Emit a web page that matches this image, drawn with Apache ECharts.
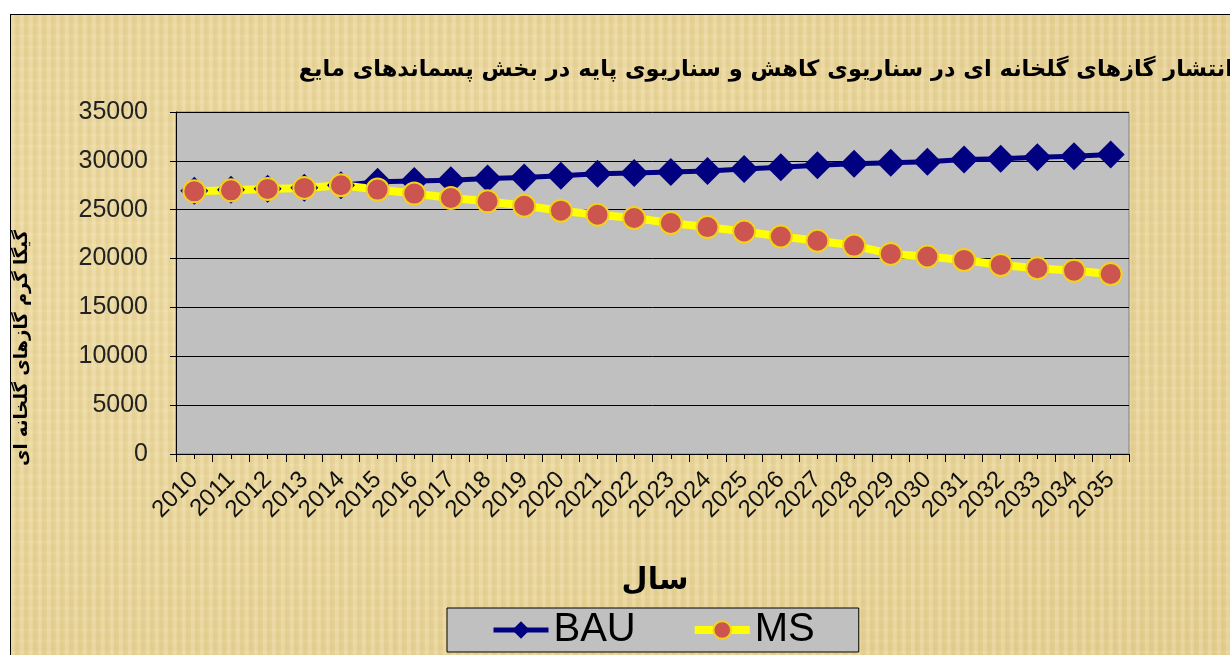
<!DOCTYPE html>
<html>
<head>
<meta charset="utf-8">
<script src="https://cdn.jsdelivr.net/npm/echarts@6/dist/echarts.min.js"></script>
<style>
  html, body { margin:0; padding:0; background:#ffffff; }
  #wrap { position:relative; width:1230px; height:655px; overflow:hidden; background:#ffffff; }
  #bg { position:absolute; left:10px; top:14px; width:1230px; height:660px;
        border-left:1px solid #000; border-top:1px solid #000;
        background-color:#e6d193;
        background-image:
          repeating-linear-gradient(90deg, rgba(255,250,225,0.18) 0px, rgba(255,250,225,0.18) 3px, rgba(190,160,90,0.10) 5px, rgba(255,250,225,0.0) 9px),
          repeating-linear-gradient(0deg, rgba(255,248,220,0.12) 0px, rgba(200,170,100,0.08) 4px, rgba(255,248,220,0.0) 11px),
          radial-gradient(ellipse at 30% 40%, rgba(245,230,180,0.5), rgba(220,195,130,0.3));
  }
  #chart { position:absolute; left:0; top:0; width:1230px; height:655px; }
</style>
</head>
<body>
<div id="wrap">
  <div id="bg"></div>
  <div id="chart"></div>
</div>
<script>
const years = ['2010','2011','2012','2013','2014','2015','2016','2017','2018','2019','2020','2021','2022','2023','2024','2025','2026','2027','2028','2029','2030','2031','2032','2033','2034','2035'];
const bauValues = [26950, 27050, 27150, 27250, 27500, 27850, 27950, 28010, 28190, 28290, 28470, 28680, 28770, 28860, 28970, 29160, 29350, 29560, 29700, 29800, 29900, 30140, 30210, 30380, 30480, 30650];
const msValues = [26880, 26980, 27130, 27230, 27500, 27060, 26650, 26200, 25860, 25410, 24900, 24490, 24150, 23640, 23220, 22770, 22260, 21820, 21330, 20480, 20210, 19860, 19350, 19010, 18760, 18420];
const titleText = 'انتشار گازهای گلخانه ای در سناریوی کاهش و سناریوی پایه در بخش پسماندهای مایع';
const yName = 'گیگا گرم گازهای گلخانه ای';
const xName = 'سال';

const chart = echarts.init(document.getElementById('chart'), null, {renderer:'canvas'});
const option = {
  backgroundColor: 'transparent',
  animation: false,
  grid: { left:176, right:101, top:112, bottom:201, show:true, backgroundColor:'#c0c0c0', borderColor:'#808080', borderWidth:1 },
  graphic: [
    { type:'text', x:1233, y:70, style:{ text:titleText, fill:'#000', font:'bold 22.5px "DejaVu Sans"', textAlign:'right', textVerticalAlign:'middle' } },
    { type:'text', x:22, y:348, rotation:Math.PI/2, style:{ text:yName, fill:'#000', font:'bold 18px "DejaVu Sans"', textAlign:'center', textVerticalAlign:'middle' } },
    { type:'text', x:655, y:581, style:{ text:xName, fill:'#000', font:'bold 30px "DejaVu Sans"', textAlign:'center', textVerticalAlign:'middle' } }
  ],
  legend: {
    left:447, top:608, padding:[0,44,0,44], itemGap:55, itemWidth:55, itemHeight:22,
    backgroundColor:'#c0c0c0', borderColor:'#000', borderWidth:1,
    textStyle:{ fontFamily:'Liberation Sans', fontSize:40, color:'#000', lineHeight:44 },
    data:[
      { name:'BAU', lineStyle:{ width:5, color:'#000080' } },
      { name:'MS', lineStyle:{ width:8, color:'#ffff00' } }
    ]
  },
  xAxis: [
    { type:'category', data:years, boundaryGap:true, position:'bottom',
      axisLine:{ show:true, lineStyle:{ color:'#000', width:1 } },
      axisTick:{ show:true, alignWithLabel:false, length:8, lineStyle:{ color:'#000' } },
      axisLabel:{ rotate:45, fontFamily:'Liberation Sans', fontSize:24, color:'#111', margin:22, padding:[34,0,0,0], interval:0 },
      splitLine:{ show:false } },
    { type:'category', data:years, boundaryGap:true, position:'bottom',
      axisLine:{ show:false },
      axisTick:{ show:true, alignWithLabel:true, length:5, lineStyle:{ color:'#000' } },
      axisLabel:{ show:false }, splitLine:{ show:false } }
  ],
  yAxis: {
    type:'value', min:0, max:35000, interval:5000,
    axisLine:{ show:true, lineStyle:{ color:'#000', width:1 } },
    axisTick:{ show:true, length:6, lineStyle:{ color:'#000' } },
    axisLabel:{ fontFamily:'Liberation Sans', fontSize:25, color:'#222', margin:28, formatter: v => String(v) },
    splitLine:{ show:true, lineStyle:{ color:'#000', width:1 } }
  },
  series: [
    { name:'BAU', type:'line', data:bauValues, xAxisIndex:0,
      symbol:'diamond', symbolSize:28,
      lineStyle:{ color:'#000080', width:5 },
      itemStyle:{ color:'#000080', borderColor:'#000080', borderWidth:0 } },
    { name:'MS', type:'line', data:msValues, xAxisIndex:0,
      symbol:'circle', symbolSize:22,
      lineStyle:{ color:'#ffff00', width:8 },
      itemStyle:{ color:'#cc5550', borderColor:'#f2d21c', borderWidth:2 } }
  ]
};
chart.setOption(option);
</script>
</body>
</html>
